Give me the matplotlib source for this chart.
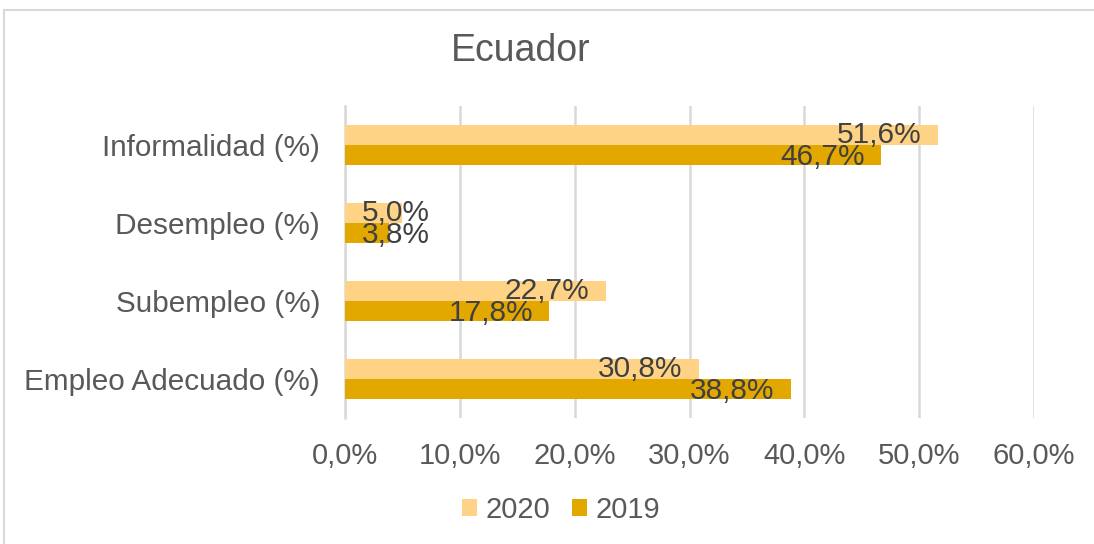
import matplotlib.pyplot as plt
import numpy as np
from matplotlib.patches import Rectangle

plt.rcParams["font.family"] = ["Liberation Sans", "DejaVu Sans"]

categories = ["Empleo Adecuado (%)", "Subempleo (%)", "Desempleo (%)", "Informalidad (%)"]
values_2020 = [30.8, 22.7, 5.0, 51.6]
values_2019 = [38.8, 17.8, 3.8, 46.7]
ticks = [0, 10, 20, 30, 40, 50, 60]

c2020 = "#FFD386"
c2019 = "#E2A800"
text_col = "#595959"
label_col = "#404040"

W, H = 1094, 544
fig = plt.figure(figsize=(W / 100, H / 100), dpi=100)
ax = fig.add_axes([345 / W, 1 - 418 / H, (1034 - 345) / W, (418 - 106) / H])

y = np.arange(len(categories))
bh = 0.256
ax.barh(y + bh / 2, values_2020, height=bh, color=c2020, label="2020", zorder=3)
ax.barh(y - bh / 2, values_2019, height=bh, color=c2019, label="2019", zorder=3)


def put_label(val, yy):
    # Excel-style "inside end" labels; short bars get the label pushed right
    txt = f"{val:.1f}%".replace(".", ",")
    if val > 8:
        ax.text(val - 1.4, yy, txt, ha="right", va="center", fontsize=21.5,
                color=label_col, zorder=4)
    else:
        ax.text(1.5, yy, txt, ha="left", va="center", fontsize=21.5,
                color=label_col, zorder=4)


for i in range(len(categories)):
    put_label(values_2020[i], y[i] + bh / 2)
    put_label(values_2019[i], y[i] - bh / 2 - 0.02)

ax.set_xlim(0, 60)
ax.set_ylim(-0.5, len(categories) - 0.5)
ax.set_xticks(ticks)
ax.set_xticklabels([f"{t:.1f}%".replace(".", ",") for t in ticks])
ax.set_yticks(y)
ax.set_yticklabels(categories)
ax.tick_params(axis="both", length=0, labelsize=21, colors=text_col)
ax.tick_params(axis="y", labelsize=21.4)
ax.tick_params(axis="x", pad=17)
ax.tick_params(axis="y", pad=18)
ax.grid(axis="x", color="#D9D9D9", linewidth=1.8, zorder=0)
for s in ["top", "right", "bottom"]:
    ax.spines[s].set_visible(False)
ax.spines["left"].set_color("#D9D9D9")
ax.spines["left"].set_linewidth(1.8)

fig.text(521 / W, 1 - 51 / H, "Ecuador", ha="center", va="center",
         fontsize=27, color=text_col)

fig.legend(loc="center", bbox_to_anchor=(561 / W, 1 - 510 / H), ncol=2,
           frameon=False, fontsize=21, labelcolor=text_col,
           handlelength=0.5, handleheight=0.5, handletextpad=0.3,
           columnspacing=0.75)

fig.patches.append(Rectangle((4 / W, -0.1), 1.2, 1 - 10 / H + 0.1,
                             transform=fig.transFigure, fill=False,
                             edgecolor="#D9D9D9", linewidth=1.5))

fig.savefig("out.png", dpi=100)
